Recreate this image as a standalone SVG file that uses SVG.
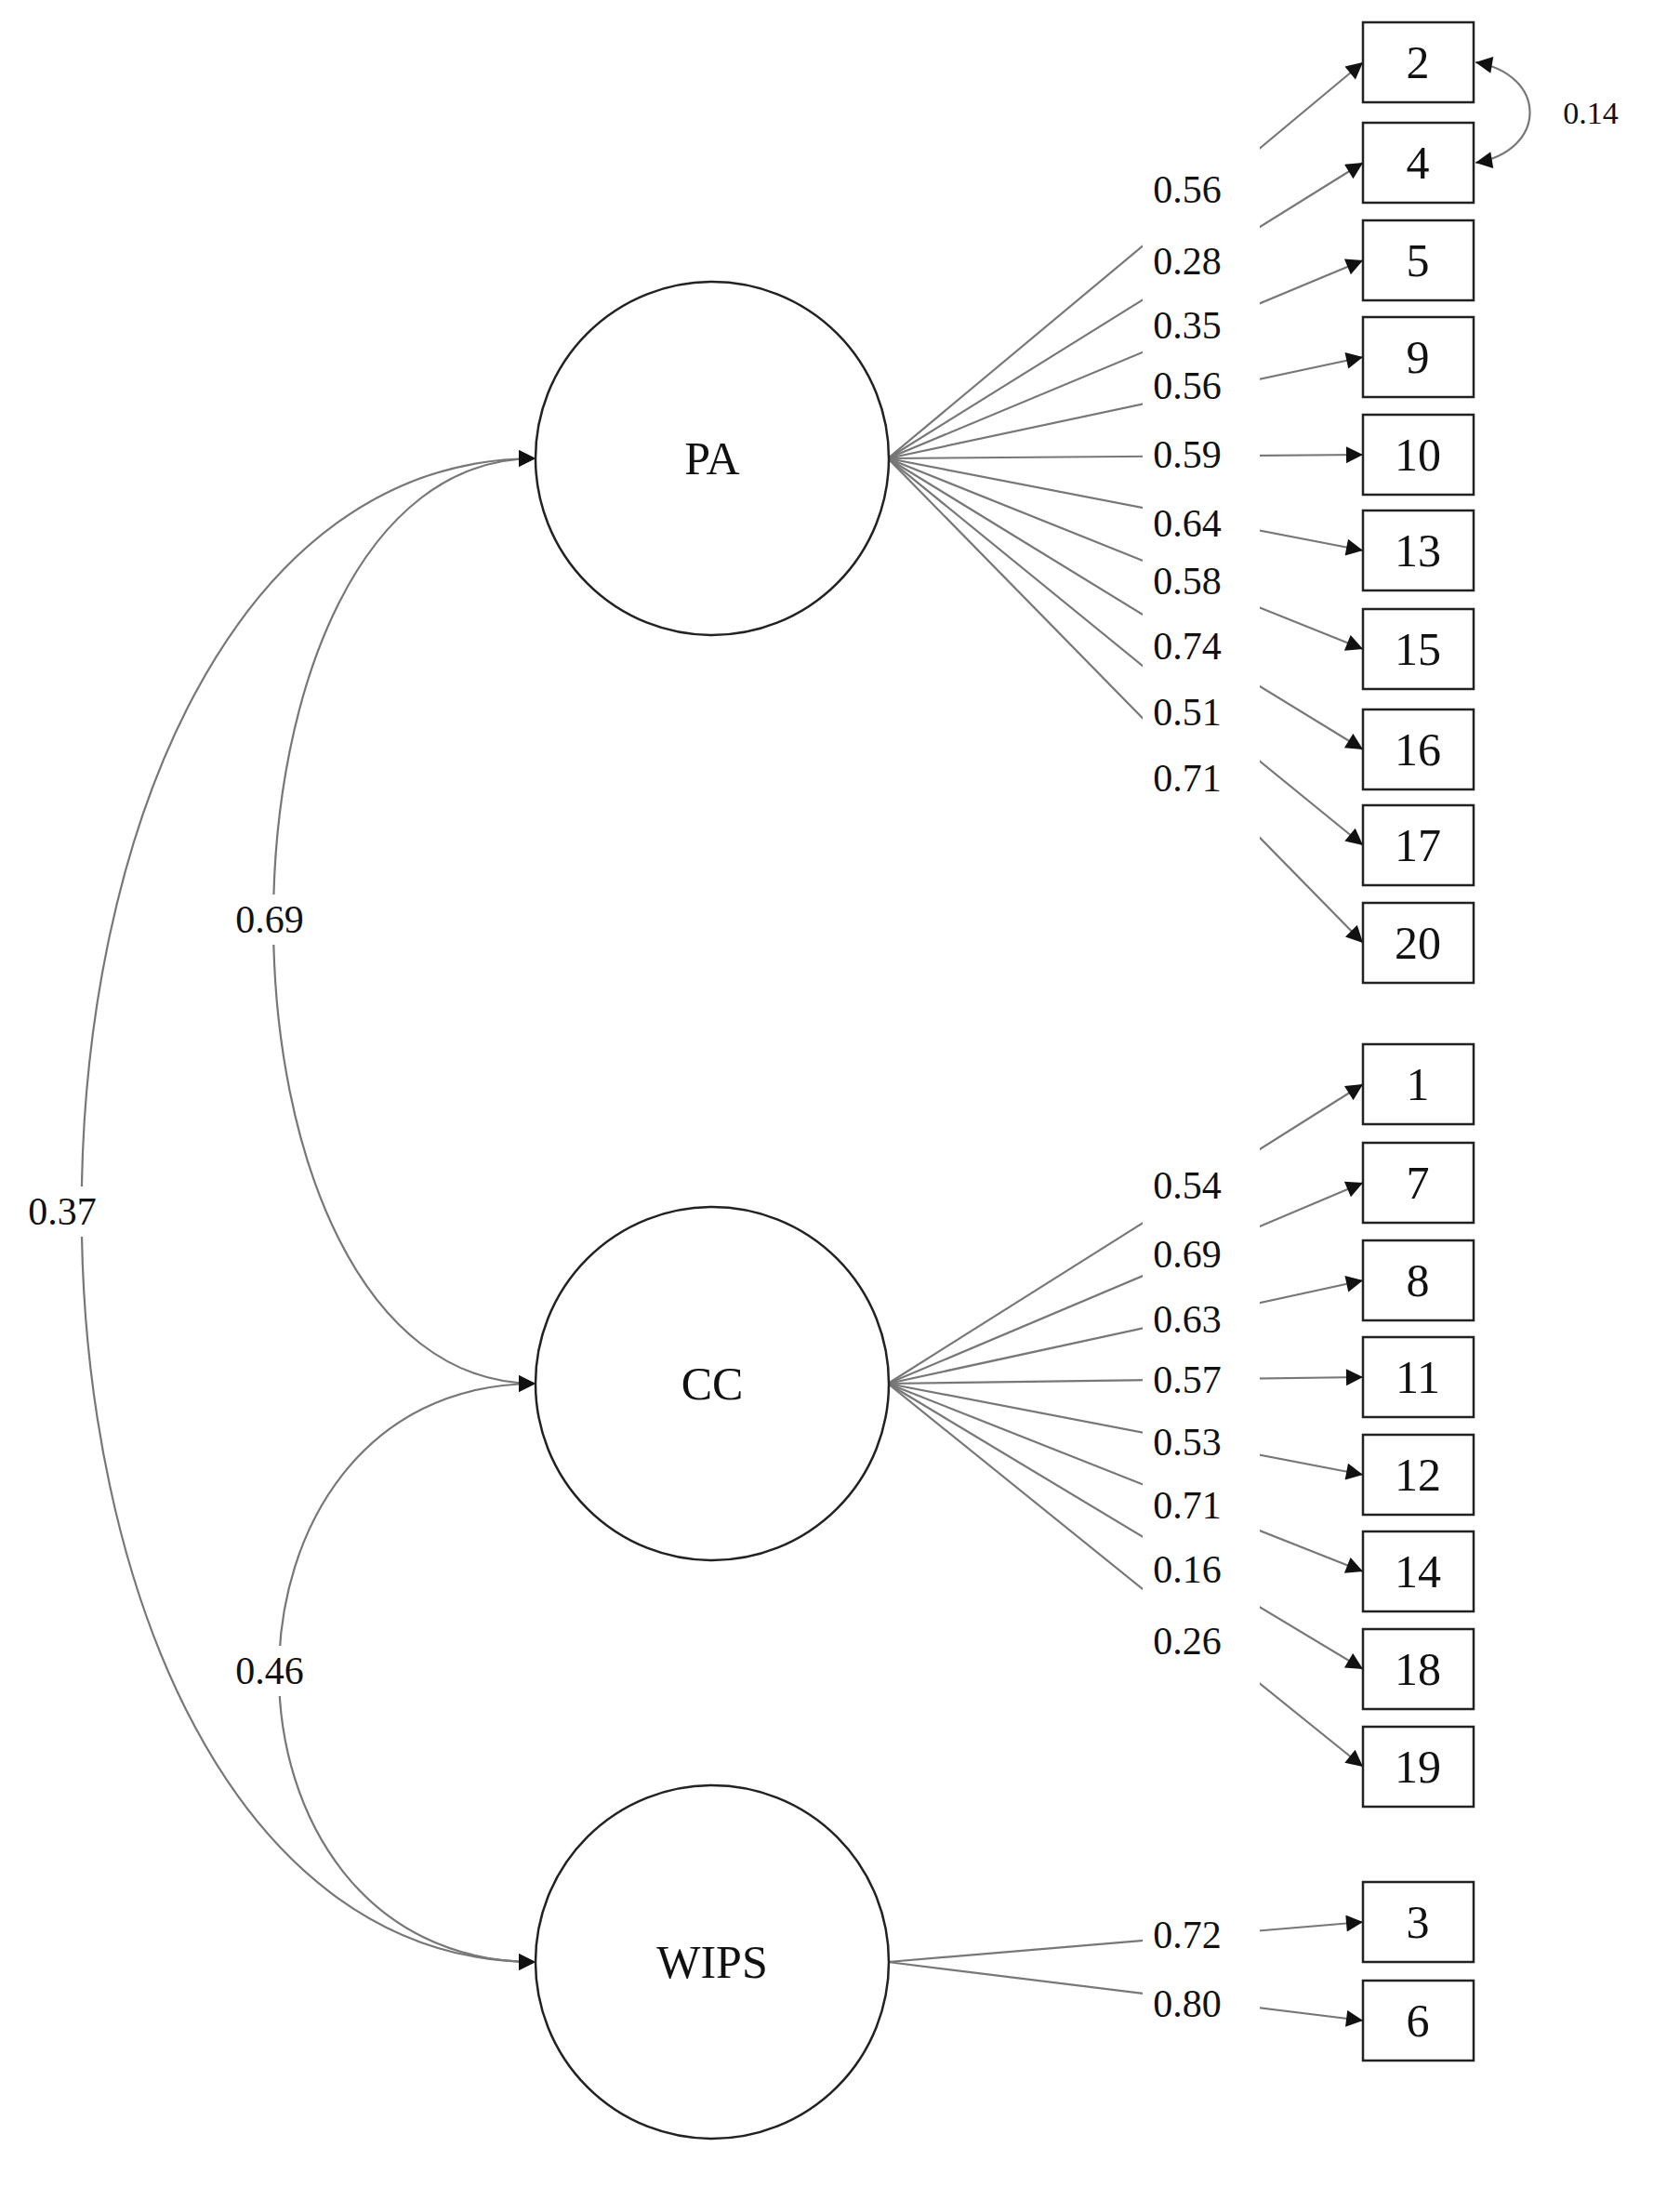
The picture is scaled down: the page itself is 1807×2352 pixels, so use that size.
<svg xmlns="http://www.w3.org/2000/svg" width="1807" height="2352" viewBox="0 0 1807 2352">
<style>
.lat{fill:#fff;stroke:#222;stroke-width:2.5}
.obs{fill:#fff;stroke:#222;stroke-width:2.5}
.t{font-family:"Liberation Serif",serif;font-size:50px;fill:#111;text-anchor:middle;dominant-baseline:central}
.l{font-family:"Liberation Serif",serif;font-size:42px;fill:#111;text-anchor:middle;dominant-baseline:central}
.e{stroke:#777;stroke-width:2.2;fill:none;marker-end:url(#ah)}
.c{stroke:#777;stroke-width:2.2;fill:none;marker-end:url(#ah);marker-start:url(#ah)}
</style>
<defs>
<marker id="ah" viewBox="0 0 10 10" refX="10" refY="5" markerWidth="20" markerHeight="18" markerUnits="userSpaceOnUse" orient="auto-start-reverse"><path d="M0,0L10,5L0,10z" fill="#111"/></marker>
</defs>
<rect width="1807" height="2352" fill="#fff"/>
<g id="connectors">
<path class="e" d="M955,493L1466,67"/>
<path class="e" d="M955,493L1466,175"/>
<path class="e" d="M955,493L1466,280"/>
<path class="e" d="M955,493L1466,384"/>
<path class="e" d="M955,493L1466,489"/>
<path class="e" d="M955,493L1466,592"/>
<path class="e" d="M955,493L1466,698"/>
<path class="e" d="M955,493L1466,806"/>
<path class="e" d="M955,493L1466,909"/>
<path class="e" d="M955,493L1466,1014"/>
<path class="e" d="M955,1488L1466,1166"/>
<path class="e" d="M955,1488L1466,1272"/>
<path class="e" d="M955,1488L1466,1377"/>
<path class="e" d="M955,1488L1466,1481"/>
<path class="e" d="M955,1488L1466,1586"/>
<path class="e" d="M955,1488L1466,1690"/>
<path class="e" d="M955,1488L1466,1795"/>
<path class="e" d="M955,1488L1466,1900"/>
<path class="e" d="M955,2110L1466,2067"/>
<path class="e" d="M955,2110L1466,2173"/>
<rect x="1229" y="150" width="126" height="930" fill="#fff"/>
<rect x="1229" y="1140" width="126" height="800" fill="#fff"/>
<rect x="1229" y="2040" width="126" height="160" fill="#fff"/>
<path class="c" d="M576,493C200,493 200,1488 576,1488"/>
<path class="c" d="M576,493C-75,493 -75,2110 576,2110"/>
<path class="c" d="M576,1488C208,1488 208,2110 576,2110"/>
<path class="c" d="M1587,67C1665,80 1665,162 1587,175"/>
<rect x="242" y="962" width="96" height="54" fill="#fff"/>
<rect x="19" y="1276" width="96" height="54" fill="#fff"/>
<rect x="242" y="1770" width="96" height="54" fill="#fff"/>
<text class="l" x="290" y="989">0.69</text>
<text class="l" x="67" y="1303">0.37</text>
<text class="l" x="290" y="1797">0.46</text>
<text class="l" x="1711" y="121" style="font-size:34px">0.14</text>
<text class="l" x="1277" y="204">0.56</text>
<text class="l" x="1277" y="281">0.28</text>
<text class="l" x="1277" y="350">0.35</text>
<text class="l" x="1277" y="415">0.56</text>
<text class="l" x="1277" y="489">0.59</text>
<text class="l" x="1277" y="563">0.64</text>
<text class="l" x="1277" y="625">0.58</text>
<text class="l" x="1277" y="695">0.74</text>
<text class="l" x="1277" y="766">0.51</text>
<text class="l" x="1277" y="837">0.71</text>
<text class="l" x="1277" y="1275">0.54</text>
<text class="l" x="1277" y="1349">0.69</text>
<text class="l" x="1277" y="1419">0.63</text>
<text class="l" x="1277" y="1484">0.57</text>
<text class="l" x="1277" y="1551">0.53</text>
<text class="l" x="1277" y="1619">0.71</text>
<text class="l" x="1277" y="1688">0.16</text>
<text class="l" x="1277" y="1765">0.26</text>
<text class="l" x="1277" y="2081">0.72</text>
<text class="l" x="1277" y="2155">0.80</text>
</g>
<g id="PA"><circle class="lat" cx="766" cy="493" r="190"/><text class="t" x="766" y="493">PA</text></g>
<g id="CC"><circle class="lat" cx="766" cy="1488" r="190"/><text class="t" x="766" y="1488">CC</text></g>
<g id="WIPS"><circle class="lat" cx="766" cy="2110" r="190"/><text class="t" x="766" y="2110">WIPS</text></g>
<g id="n2"><rect class="obs" x="1466" y="24" width="119" height="86"/><text class="t" x="1525" y="67">2</text></g>
<g id="n4"><rect class="obs" x="1466" y="132" width="119" height="86"/><text class="t" x="1525" y="175">4</text></g>
<g id="n5"><rect class="obs" x="1466" y="237" width="119" height="86"/><text class="t" x="1525" y="280">5</text></g>
<g id="n9"><rect class="obs" x="1466" y="341" width="119" height="86"/><text class="t" x="1525" y="384">9</text></g>
<g id="n10"><rect class="obs" x="1466" y="446" width="119" height="86"/><text class="t" x="1525" y="489">10</text></g>
<g id="n13"><rect class="obs" x="1466" y="549" width="119" height="86"/><text class="t" x="1525" y="592">13</text></g>
<g id="n15"><rect class="obs" x="1466" y="655" width="119" height="86"/><text class="t" x="1525" y="698">15</text></g>
<g id="n16"><rect class="obs" x="1466" y="763" width="119" height="86"/><text class="t" x="1525" y="806">16</text></g>
<g id="n17"><rect class="obs" x="1466" y="866" width="119" height="86"/><text class="t" x="1525" y="909">17</text></g>
<g id="n20"><rect class="obs" x="1466" y="971" width="119" height="86"/><text class="t" x="1525" y="1014">20</text></g>
<g id="n1"><rect class="obs" x="1466" y="1123" width="119" height="86"/><text class="t" x="1525" y="1166">1</text></g>
<g id="n7"><rect class="obs" x="1466" y="1229" width="119" height="86"/><text class="t" x="1525" y="1272">7</text></g>
<g id="n8"><rect class="obs" x="1466" y="1334" width="119" height="86"/><text class="t" x="1525" y="1377">8</text></g>
<g id="n11"><rect class="obs" x="1466" y="1438" width="119" height="86"/><text class="t" x="1525" y="1481">11</text></g>
<g id="n12"><rect class="obs" x="1466" y="1543" width="119" height="86"/><text class="t" x="1525" y="1586">12</text></g>
<g id="n14"><rect class="obs" x="1466" y="1647" width="119" height="86"/><text class="t" x="1525" y="1690">14</text></g>
<g id="n18"><rect class="obs" x="1466" y="1752" width="119" height="86"/><text class="t" x="1525" y="1795">18</text></g>
<g id="n19"><rect class="obs" x="1466" y="1857" width="119" height="86"/><text class="t" x="1525" y="1900">19</text></g>
<g id="n3"><rect class="obs" x="1466" y="2024" width="119" height="86"/><text class="t" x="1525" y="2067">3</text></g>
<g id="n6"><rect class="obs" x="1466" y="2130" width="119" height="86"/><text class="t" x="1525" y="2173">6</text></g>
</svg>
